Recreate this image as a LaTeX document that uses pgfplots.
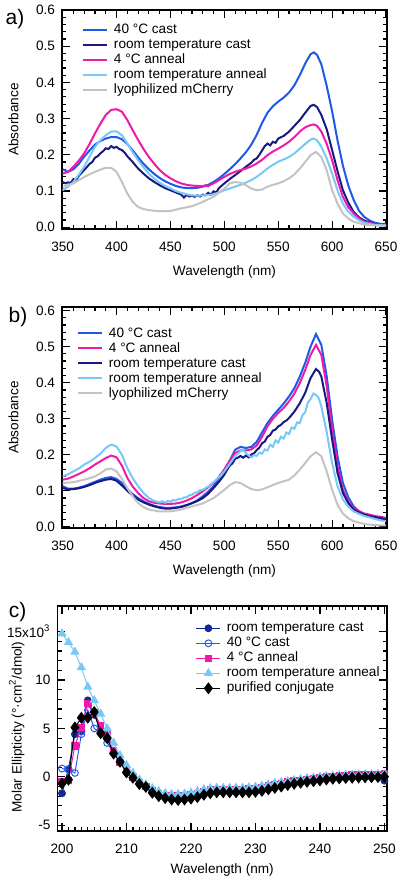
\documentclass[border=0pt]{standalone}
\usepackage{pgfplots}
\pgfplotsset{compat=1.18}
\usepackage{fontspec}
\setmainfont{Liberation Sans}
\definecolor{cBlue}{RGB}{30,90,230}
\definecolor{cNavy}{RGB}{25,25,130}
\definecolor{cMag}{RGB}{240,25,170}
\definecolor{cLight}{RGB}{120,200,245}
\definecolor{cGray}{RGB}{195,195,195}
\definecolor{cNavyC}{RGB}{20,40,150}
\definecolor{cBlueC}{RGB}{40,90,235}
\newcommand{\fs}{\fontsize{6.8}{8}\selectfont}
\pgfplotsset{
 myaxis/.style={
  scale only axis,
  axis line style={line width=0.7pt},
  every tick/.style={line width=0.6pt, black},
  major tick length=3.8pt,
  minor tick length=2pt,
  tick align=inside,
  tick label style={font=\fs},
  label style={font=\fs},
  xticklabel style={yshift=-3pt},
  legend style={draw=none, fill=none, font=\fs, inner sep=0pt, outer sep=0pt, anchor=north west,
    nodes={inner sep=0pt, text height=5pt, text depth=1.3pt},
    row sep=1.2pt, /tikz/every odd column/.append style={column sep=3pt}},
  legend cell align=left,
 },
 specaxis/.style={myaxis, width=162.5pt,
  xmin=349.4, xmax=650.9,
  xtick={350,400,450,500,550,600,650}, xticklabels={350,400,450,500,550,600,650},
  minor x tick num=4,
  ytick={0,0.1,0.2,0.3,0.4,0.5,0.6}, yticklabels={0.0,0.1,0.2,0.3,0.4,0.5,0.6},
  minor y tick num=4,
  xlabel={Wavelength (nm)}, ylabel={Absorbance},
  legend image code/.code={\draw[##1] (0pt,0pt) -- (12pt,0pt);},
  every axis plot/.append style={line width=1pt},
 },
}
\begin{document}
\begin{tikzpicture}
\useasboundingbox (0,0) rectangle (200pt,-442.5pt);
% ---------------- panel a
\begin{axis}[specaxis, height=109.5pt, at={(31pt,-114.5pt)}, anchor=south west,
  ymin=-0.005, ymax=0.6,
  xlabel style={at={(axis description cs:0.5,-0.196)}, anchor=center},
  ylabel style={at={(axis description cs:-0.149,0.5)}, anchor=center},
  legend style={at={(0.0615,0.937)}}]
\addplot[cBlue] coordinates {(350,0.160)(355,0.153)(360,0.160)(365,0.175)(370,0.195)(375,0.212)(380,0.228)(385,0.238)(390,0.245)(395,0.249)(400,0.249)(405,0.243)(410,0.230)(415,0.212)(420,0.193)(425,0.175)(430,0.160)(435,0.147)(440,0.136)(445,0.127)(450,0.120)(455,0.114)(460,0.110)(465,0.108)(470,0.108)(475,0.109)(480,0.112)(485,0.117)(490,0.125)(495,0.135)(500,0.147)(505,0.160)(510,0.174)(515,0.190)(520,0.207)(525,0.228)(530,0.255)(535,0.288)(540,0.316)(545,0.334)(550,0.347)(555,0.358)(560,0.372)(565,0.392)(570,0.420)(575,0.452)(580,0.478)(583,0.483)(586,0.476)(590,0.450)(595,0.390)(600,0.320)(605,0.240)(610,0.170)(615,0.115)(620,0.075)(625,0.045)(630,0.028)(635,0.018)(640,0.012)(645,0.009)(650,0.008)};
\addlegendentry{40 °C cast}
\addplot[cNavy] coordinates {(350,0.125)(352.5,0.121)(355,0.124)(357.5,0.122)(360,0.133)(362.5,0.130)(365,0.142)(367.5,0.150)(370,0.158)(372.5,0.166)(375,0.175)(377.5,0.180)(380,0.192)(382.5,0.196)(385,0.204)(387.5,0.210)(390,0.218)(392.5,0.216)(395,0.224)(397.5,0.219)(400,0.222)(402.5,0.216)(405,0.213)(407.5,0.206)(410,0.196)(415,0.180)(420,0.162)(425,0.148)(430,0.135)(435,0.125)(440,0.116)(445,0.108)(450,0.102)(455,0.096)(460,0.090)(462.5,0.082)(465,0.089)(467.5,0.085)(470,0.087)(472.5,0.084)(475,0.088)(477.5,0.085)(480,0.090)(482.5,0.088)(485,0.095)(487.5,0.090)(490,0.099)(492.5,0.096)(495,0.108)(500,0.121)(505,0.133)(510,0.144)(515,0.155)(520,0.167)(525,0.178)(527.5,0.186)(530,0.190)(532.5,0.200)(535,0.212)(537.5,0.224)(540,0.231)(542.5,0.226)(545,0.236)(547.5,0.233)(550,0.245)(555,0.252)(560,0.264)(565,0.280)(570,0.296)(575,0.316)(580,0.335)(583,0.338)(586,0.332)(590,0.310)(595,0.270)(600,0.213)(605,0.155)(610,0.102)(615,0.068)(620,0.042)(625,0.027)(630,0.018)(640,0.008)(650,0.006)};
\addlegendentry{room temperature cast}
\addplot[cMag] coordinates {(350,0.148)(355,0.153)(360,0.167)(365,0.184)(370,0.204)(375,0.230)(380,0.259)(385,0.286)(390,0.310)(395,0.324)(400,0.326)(405,0.319)(410,0.296)(415,0.268)(420,0.241)(425,0.216)(430,0.194)(435,0.175)(440,0.158)(445,0.145)(450,0.135)(455,0.127)(460,0.121)(465,0.117)(470,0.115)(475,0.114)(480,0.113)(482.5,0.116)(485,0.113)(487.5,0.118)(490,0.121)(495,0.130)(500,0.139)(505,0.147)(510,0.153)(515,0.158)(520,0.162)(525,0.168)(530,0.176)(535,0.186)(540,0.199)(545,0.209)(550,0.217)(555,0.226)(560,0.236)(565,0.249)(570,0.264)(575,0.276)(580,0.282)(583,0.284)(586,0.280)(590,0.264)(595,0.230)(600,0.185)(605,0.130)(610,0.084)(615,0.055)(620,0.038)(625,0.024)(630,0.015)(640,0.008)(650,0.006)};
\addlegendentry{4 °C anneal}
\addplot[cLight] coordinates {(350,0.102)(355,0.112)(360,0.125)(365,0.145)(370,0.167)(375,0.195)(380,0.222)(385,0.240)(390,0.254)(395,0.264)(400,0.265)(405,0.254)(410,0.231)(415,0.207)(420,0.185)(425,0.165)(430,0.148)(435,0.134)(440,0.123)(445,0.114)(450,0.107)(455,0.100)(460,0.095)(465,0.091)(470,0.088)(475,0.087)(480,0.088)(485,0.089)(490,0.091)(495,0.096)(500,0.102)(505,0.107)(510,0.112)(515,0.117)(520,0.123)(525,0.130)(530,0.139)(535,0.150)(540,0.162)(545,0.172)(550,0.181)(555,0.187)(560,0.194)(565,0.204)(570,0.217)(575,0.230)(580,0.242)(583,0.245)(586,0.240)(590,0.222)(595,0.190)(600,0.148)(605,0.102)(610,0.065)(615,0.043)(620,0.029)(625,0.019)(630,0.012)(640,0.006)(650,0.005)};
\addlegendentry{room temperature anneal}
\addplot[cGray] coordinates {(350,0.112)(355,0.116)(360,0.121)(365,0.130)(370,0.139)(375,0.146)(380,0.153)(385,0.159)(390,0.164)(395,0.164)(400,0.153)(405,0.125)(410,0.093)(415,0.070)(420,0.056)(425,0.050)(430,0.047)(440,0.044)(450,0.045)(460,0.052)(470,0.058)(480,0.070)(490,0.084)(500,0.107)(505,0.121)(510,0.125)(515,0.123)(520,0.116)(525,0.107)(530,0.102)(535,0.104)(540,0.112)(545,0.117)(550,0.121)(555,0.127)(560,0.135)(565,0.146)(570,0.162)(575,0.180)(580,0.199)(585,0.208)(590,0.194)(595,0.157)(600,0.102)(605,0.065)(610,0.038)(615,0.024)(620,0.015)(630,0.007)(640,0.005)(650,0.004)};
\addlegendentry{lyophilized mCherry}
\end{axis}
\node[font=\fontsize{10.5}{12}\selectfont] at (7.5pt,-9.5pt) {a)};
% ---------------- panel b
\begin{axis}[specaxis, height=110.5pt, at={(31pt,-264pt)}, anchor=south west,
  ymin=-0.003, ymax=0.61,
  xlabel style={at={(axis description cs:0.5,-0.195)}, anchor=center},
  ylabel style={at={(axis description cs:-0.149,0.5)}, anchor=center},
  legend style={at={(0.046,0.9095)}}]
\addplot[cBlue] coordinates {(350,0.113)(355,0.106)(360,0.106)(365,0.109)(370,0.113)(375,0.119)(380,0.125)(385,0.131)(390,0.136)(395,0.138)(400,0.133)(405,0.122)(410,0.105)(415,0.091)(420,0.080)(425,0.071)(430,0.064)(435,0.059)(440,0.055)(445,0.053)(450,0.053)(455,0.054)(460,0.057)(465,0.061)(470,0.066)(475,0.074)(480,0.085)(485,0.098)(490,0.113)(495,0.135)(500,0.159)(505,0.184)(510,0.214)(515,0.222)(520,0.219)(525,0.222)(530,0.236)(535,0.262)(540,0.288)(545,0.308)(550,0.325)(555,0.342)(560,0.362)(565,0.385)(570,0.417)(575,0.455)(580,0.500)(585,0.535)(590,0.505)(595,0.417)(600,0.297)(605,0.196)(610,0.122)(615,0.082)(620,0.057)(625,0.043)(630,0.034)(635,0.030)(640,0.025)(645,0.023)(650,0.020)};
\addlegendentry{40 °C cast}
\addplot[cMag] coordinates {(350,0.131)(355,0.134)(360,0.140)(365,0.147)(370,0.154)(375,0.163)(380,0.173)(385,0.182)(390,0.191)(395,0.198)(400,0.193)(405,0.170)(410,0.136)(415,0.112)(420,0.094)(425,0.080)(430,0.071)(435,0.067)(440,0.065)(445,0.064)(450,0.064)(455,0.065)(460,0.068)(465,0.073)(470,0.080)(475,0.089)(480,0.099)(485,0.110)(490,0.122)(495,0.139)(500,0.159)(505,0.183)(510,0.205)(515,0.212)(520,0.212)(525,0.215)(530,0.226)(535,0.250)(540,0.279)(545,0.300)(550,0.316)(555,0.330)(560,0.348)(565,0.370)(570,0.399)(575,0.435)(580,0.477)(585,0.505)(590,0.477)(595,0.390)(600,0.270)(605,0.168)(610,0.103)(615,0.070)(620,0.053)(625,0.044)(630,0.037)(635,0.034)(640,0.030)(645,0.028)(650,0.025)};
\addlegendentry{4 °C anneal}
\addplot[cNavy] coordinates {(350,0.108)(355,0.104)(360,0.105)(365,0.107)(370,0.111)(375,0.116)(380,0.122)(385,0.127)(390,0.131)(395,0.133)(400,0.128)(405,0.115)(410,0.100)(415,0.087)(420,0.076)(425,0.068)(430,0.062)(435,0.057)(440,0.053)(445,0.051)(450,0.051)(455,0.053)(460,0.055)(465,0.060)(470,0.066)(475,0.072)(480,0.080)(485,0.092)(490,0.108)(495,0.125)(500,0.145)(502.5,0.158)(505,0.170)(507.5,0.176)(510,0.189)(512.5,0.192)(515,0.197)(517.5,0.192)(520,0.198)(522.5,0.193)(525,0.201)(527.5,0.204)(530,0.213)(532.5,0.220)(535,0.232)(537.5,0.237)(540,0.250)(542.5,0.255)(545,0.267)(547.5,0.270)(550,0.279)(552.5,0.283)(555,0.291)(557.5,0.295)(560,0.302)(565,0.320)(570,0.343)(575,0.372)(580,0.413)(585,0.438)(588,0.430)(590,0.417)(595,0.343)(600,0.242)(605,0.150)(610,0.094)(615,0.066)(620,0.048)(625,0.040)(630,0.034)(635,0.030)(640,0.027)(645,0.025)(650,0.020)};
\addlegendentry{room temperature cast}
\addplot[cLight] coordinates {(350,0.140)(355,0.146)(360,0.154)(365,0.162)(370,0.173)(375,0.181)(380,0.191)(385,0.203)(390,0.219)(392.5,0.224)(395,0.228)(397.5,0.226)(400,0.223)(405,0.200)(410,0.163)(415,0.135)(420,0.113)(425,0.094)(430,0.080)(435,0.072)(440,0.068)(442.5,0.071)(445,0.067)(447.5,0.072)(450,0.070)(452.5,0.075)(455,0.073)(457.5,0.078)(460,0.077)(462.5,0.082)(465,0.082)(467.5,0.088)(470,0.089)(472.5,0.095)(475,0.096)(477.5,0.102)(480,0.103)(485,0.112)(490,0.124)(495,0.138)(500,0.154)(505,0.175)(510,0.196)(515,0.210)(517.5,0.213)(520,0.205)(522.5,0.198)(525,0.193)(527.5,0.199)(530,0.197)(532.5,0.206)(535,0.203)(537.5,0.215)(540,0.212)(542.5,0.228)(545,0.222)(547.5,0.240)(550,0.234)(552.5,0.250)(555,0.245)(557.5,0.262)(560,0.258)(562.5,0.276)(565,0.272)(567.5,0.290)(570,0.288)(572.5,0.310)(575,0.318)(577.5,0.345)(580,0.355)(582.5,0.370)(585,0.366)(587.5,0.358)(590,0.334)(595,0.262)(600,0.177)(605,0.113)(610,0.076)(615,0.056)(620,0.043)(625,0.036)(630,0.030)(635,0.026)(640,0.022)(645,0.018)(650,0.016)};
\addlegendentry{room temperature anneal}
\addplot[cGray] coordinates {(350,0.122)(360,0.124)(370,0.131)(380,0.140)(385,0.149)(390,0.159)(395,0.162)(400,0.154)(405,0.133)(410,0.108)(415,0.085)(420,0.066)(425,0.055)(430,0.048)(440,0.043)(450,0.043)(460,0.048)(470,0.057)(480,0.065)(490,0.080)(500,0.103)(505,0.116)(510,0.124)(515,0.122)(520,0.113)(525,0.105)(530,0.102)(535,0.104)(540,0.110)(545,0.116)(550,0.122)(560,0.131)(565,0.143)(570,0.159)(575,0.177)(580,0.196)(585,0.207)(590,0.196)(595,0.154)(600,0.103)(605,0.062)(610,0.037)(615,0.024)(620,0.016)(630,0.008)(640,0.005)(650,0.004)};
\addlegendentry{lyophilized mCherry}
\end{axis}
\node[font=\fontsize{10.5}{12}\selectfont] at (9pt,-158.3pt) {b)};
% ---------------- panel c
\begin{axis}[myaxis, width=164.75pt, height=112.5pt, at={(28.75pt,-415.5pt)}, anchor=south west,
  clip mode=individual,
  xmin=199.3, xmax=250.4, ymin=-5.6, ymax=17.65,
  xtick={200,210,220,230,240,250}, xticklabels={200,210,220,230,240,250},
  minor x tick num=9,
  ytick={-5,0,5,10,15}, yticklabels={-5,0,5,10,15x10\textsuperscript{3}},
  minor y tick num=4,
  xlabel={Wavelength (nm)}, ylabel={Molar Ellipticity (°·cm\textsuperscript{2}/dmol)},
  xlabel style={at={(axis description cs:0.5,-0.173)}, anchor=center},
  ylabel style={at={(axis description cs:-0.124,0.462)}, anchor=center},
  legend style={at={(0.42,0.929)}},
  legend image code/.code={\draw[mark repeat=2,mark phase=2,#1] plot coordinates {(0pt,0pt)(6pt,0pt)(12pt,0pt)};},
  every axis plot/.append style={line width=0.5pt}]
\addplot[cNavyC, mark=*, mark size=1.7pt] coordinates {(200,-1.7)(201,0.8)(202,4.4)(203,4.7)(204,7.9)(205,6.4)(206,4.8)(207,3.9)(208,2.5)(209,1.5)(210,0.5)(211,-0.05)(212,-0.7)(213,-1.0)(214,-1.6)(215,-1.9)(216,-2.1)(217,-2.25)(218,-2.3)(219,-2.25)(220,-2.15)(221,-2.0)(222,-1.75)(223,-1.6)(224,-1.5)(225,-1.5)(226,-1.5)(227,-1.5)(228,-1.5)(229,-1.5)(230,-1.45)(231,-1.35)(232,-1.2)(233,-1.05)(234,-0.9)(235,-0.75)(236,-0.62)(237,-0.52)(238,-0.42)(239,-0.35)(240,-0.27)(241,-0.2)(242,-0.12)(243,-0.08)(244,-0.05)(245,-0.03)(246,-0.01)(247,0.0)(248,0.0)(249,0.0)(250,-0.4)};
\addlegendentry{room temperature cast}
\addplot[cBlueC, mark=o, mark size=1.7pt, mark options={fill=white}] coordinates {(200,0.85)(201,0.75)(202,0.4)(203,4.4)(204,6.9)(205,5.0)(206,4.5)(207,3.5)(208,2.5)(209,1.5)(210,0.5)(211,-0.05)(212,-0.7)(213,-1.0)(214,-1.6)(215,-1.9)(216,-2.1)(217,-2.25)(218,-2.3)(219,-2.25)(220,-2.15)(221,-2.0)(222,-1.75)(223,-1.6)(224,-1.5)(225,-1.5)(226,-1.5)(227,-1.5)(228,-1.5)(229,-1.5)(230,-1.45)(231,-1.35)(232,-1.2)(233,-1.05)(234,-0.9)(235,-0.75)(236,-0.62)(237,-0.52)(238,-0.42)(239,-0.35)(240,-0.27)(241,-0.2)(242,-0.12)(243,-0.08)(244,-0.05)(245,-0.03)(246,-0.01)(247,0.0)(248,0.0)(249,0.0)(250,0.0)};
\addlegendentry{40 °C cast}
\addplot[cMag, mark=square*, mark size=1.6pt] coordinates {(200,-0.5)(201,-0.35)(202,3.2)(203,5.1)(204,7.6)(205,6.6)(206,5.3)(207,4.4)(208,2.7)(209,1.5)(210,0.6)(211,0.0)(212,-0.6)(213,-1.0)(214,-1.4)(215,-1.7)(216,-1.9)(217,-2.0)(218,-2.0)(219,-1.95)(220,-1.85)(221,-1.7)(222,-1.5)(223,-1.35)(224,-1.3)(225,-1.3)(226,-1.3)(227,-1.3)(228,-1.3)(229,-1.25)(230,-1.2)(231,-1.1)(232,-0.95)(233,-0.8)(234,-0.7)(235,-0.55)(236,-0.45)(237,-0.35)(238,-0.25)(239,-0.18)(240,-0.1)(241,-0.02)(242,0.05)(243,0.1)(244,0.15)(245,0.18)(246,0.2)(247,0.22)(248,0.24)(249,0.26)(250,0.28)};
\addlegendentry{4 °C anneal}
\addplot[cLight, mark=triangle*, mark size=2.2pt] coordinates {(200,14.8)(201,13.9)(202,12.9)(203,11.3)(204,9.3)(205,7.9)(206,6.5)(207,5.0)(208,3.5)(209,2.2)(210,1.2)(211,0.4)(212,-0.3)(213,-0.8)(214,-1.2)(215,-1.5)(216,-1.7)(217,-1.8)(218,-1.8)(219,-1.75)(220,-1.65)(221,-1.5)(222,-1.3)(223,-1.2)(224,-1.15)(225,-1.15)(226,-1.15)(227,-1.15)(228,-1.15)(229,-1.1)(230,-1.05)(231,-0.95)(232,-0.8)(233,-0.65)(234,-0.55)(235,-0.45)(236,-0.35)(237,-0.25)(238,-0.15)(239,-0.1)(240,0.0)(241,0.05)(242,0.1)(243,0.15)(244,0.18)(245,0.2)(246,0.22)(247,0.24)(248,0.25)(249,0.27)(250,0.28)};
\addlegendentry{room temperature anneal}
\addplot[black, mark=diamond*, mark size=2.6pt] coordinates {(200,-0.7)(201,-0.3)(202,5.1)(203,6.1)(204,6.1)(205,6.7)(206,4.5)(207,4.0)(208,2.4)(209,1.55)(210,0.45)(211,-0.1)(212,-0.75)(213,-1.05)(214,-1.65)(215,-2.0)(216,-2.2)(217,-2.35)(218,-2.4)(219,-2.35)(220,-2.25)(221,-2.1)(222,-1.85)(223,-1.7)(224,-1.6)(225,-1.6)(226,-1.6)(227,-1.6)(228,-1.6)(229,-1.6)(230,-1.55)(231,-1.45)(232,-1.3)(233,-1.15)(234,-1.0)(235,-0.85)(236,-0.72)(237,-0.62)(238,-0.52)(239,-0.45)(240,-0.37)(241,-0.28)(242,-0.2)(243,-0.17)(244,-0.12)(245,-0.1)(246,-0.07)(247,-0.05)(248,-0.04)(249,-0.02)(250,0.0)};
\addlegendentry{purified conjugate}
\end{axis}
\node[font=\fontsize{10.5}{12}\selectfont] at (8.75pt,-306pt) {c)};
\end{tikzpicture}
\end{document}
